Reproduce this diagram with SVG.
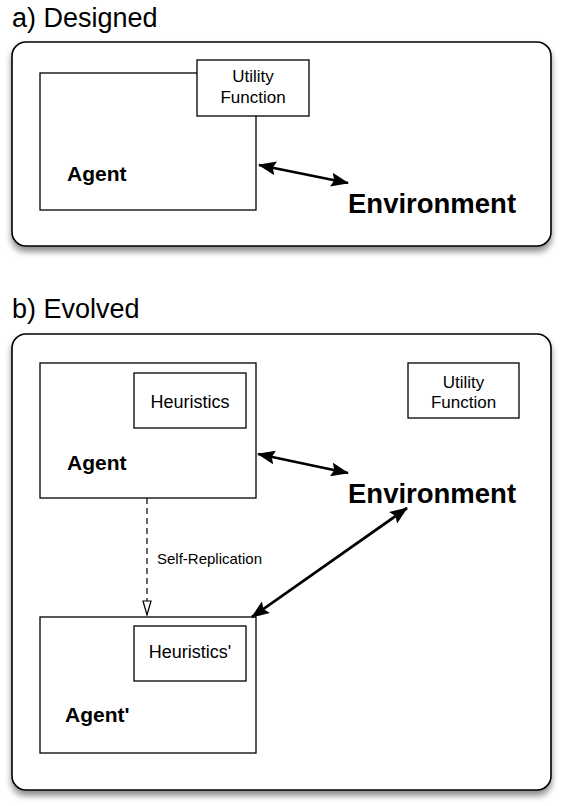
<svg xmlns="http://www.w3.org/2000/svg" width="562" height="806" viewBox="0 0 562 806">
<style>
.panel{fill:#fff;stroke:#000;stroke-width:1.6;filter:url(#sh)}
.box{fill:#fff;stroke:#000;stroke-width:1.3}
.title{font-family:"Liberation Sans",Arial,sans-serif;font-size:27px;fill:#000}
.small{font-family:"Liberation Sans",Arial,sans-serif;font-size:17px;fill:#000;text-anchor:middle}
.heur{font-family:"Liberation Sans",Arial,sans-serif;font-size:18px;fill:#000;text-anchor:middle}
.bold{font-family:"Liberation Sans",Arial,sans-serif;font-weight:bold;font-size:21px;fill:#000}
.env{font-family:"Liberation Sans",Arial,sans-serif;font-weight:bold;font-size:27.5px;fill:#000}
.lbl{font-family:"Liberation Sans",Arial,sans-serif;font-size:15px;fill:#000}
.arr{stroke:#000;stroke-width:2.8;fill:none;marker-start:url(#ah);marker-end:url(#ah)}
</style>
<defs>
<filter id="sh" x="-5%" y="-5%" width="110%" height="115%">
<feDropShadow dx="0" dy="5" stdDeviation="3" flood-color="#000" flood-opacity="0.45"/>
</filter>
<marker id="ah" viewBox="0 0 18 14" refX="17" refY="7" markerWidth="18" markerHeight="14" orient="auto-start-reverse" markerUnits="userSpaceOnUse">
<path d="M0,0 L18,7 L0,14 L3,7 z" fill="#000"/>
</marker>
<marker id="tri" viewBox="0 0 10 16" refX="5" refY="15.5" markerWidth="10" markerHeight="16" orient="0" markerUnits="userSpaceOnUse">
<path d="M1,1 L9,1 L5,15 z" fill="#fff" stroke="#000" stroke-width="1.2"/>
</marker>
</defs>

<g id="panel-a">
<text class="title" x="12" y="27">a) Designed</text>
<rect class="panel" x="12" y="42" width="539" height="204" rx="14"/>
</g>
<g id="agent-a">
<rect class="box" x="40" y="73" width="216" height="137"/>
<text class="bold" x="67" y="181">Agent</text>
</g>
<g id="utility-a">
<rect class="box" x="197" y="60" width="112" height="56"/>
<text class="small" x="253" y="82">Utility</text>
<text class="small" x="253" y="103">Function</text>
</g>
<g id="environment-a">
<text class="env" x="348" y="213">Environment</text>
</g>

<g id="panel-b">
<text class="title" x="12" y="318">b) Evolved</text>
<rect class="panel" x="12" y="334" width="539" height="456" rx="14"/>
</g>
<g id="agent-b">
<rect class="box" x="40" y="363" width="216" height="135"/>
<text class="bold" x="67" y="470">Agent</text>
</g>
<g id="heuristics">
<rect class="box" x="134" y="373" width="112" height="55"/>
<text class="heur" x="190" y="408">Heuristics</text>
</g>
<g id="utility-b">
<rect class="box" x="408" y="363" width="111" height="55"/>
<text class="small" x="463.5" y="388">Utility</text>
<text class="small" x="463.5" y="408">Function</text>
</g>
<g id="environment-b">
<text class="env" x="348" y="503">Environment</text>
</g>
<g id="agent-prime">
<rect class="box" x="40" y="617" width="216" height="136"/>
<text class="bold" x="65" y="722">Agent'</text>
</g>
<g id="heuristics-prime">
<rect class="box" x="134" y="626" width="112" height="55"/>
<text class="heur" x="190" y="658">Heuristics'</text>
</g>

<g id="connectors">
<line class="arr" x1="259" y1="165" x2="348" y2="183"/>
<line class="arr" x1="258" y1="454" x2="348" y2="473"/>
<line class="arr" x1="407" y1="508" x2="252" y2="617"/>
<line x1="147" y1="498" x2="147" y2="601" stroke="#000" stroke-width="1.2" stroke-dasharray="6,4"/>
<polygon points="143,601 151,601 147,615" fill="#fff" stroke="#000" stroke-width="1.2"/>
<text class="lbl" x="157" y="564">Self-Replication</text>
</g>
</svg>
